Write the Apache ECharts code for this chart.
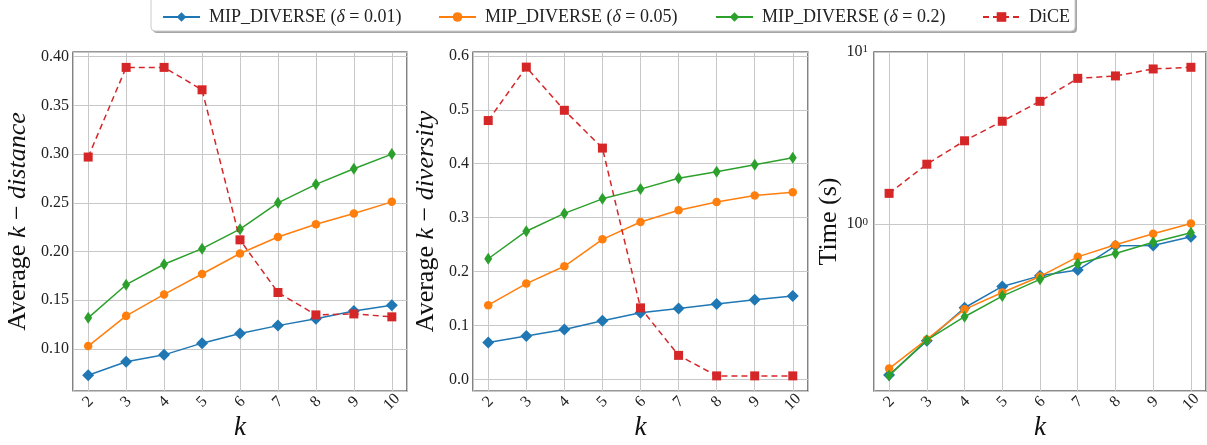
<!DOCTYPE html>
<html>
<head>
<meta charset="utf-8">
<script src="https://cdn.jsdelivr.net/npm/echarts@6/dist/echarts.min.js"></script>
<style>
  html, body { margin: 0; padding: 0; background: #fff; }
  #chart { width: 1207px; height: 445px; }
</style>
</head>
<body>
<div id="chart"></div>
<script>
// k values on the x axis
var ks = [2, 3, 4, 5, 6, 7, 8, 9, 10];

// series names
var names = ['MIP_DIVERSE (δ = 0.01)', 'MIP_DIVERSE (δ = 0.05)', 'MIP_DIVERSE (δ = 0.2)', 'DiCE'];

// panel 1: average k-distance
var dist001 = [0.073, 0.087, 0.094, 0.106, 0.116, 0.124, 0.131, 0.139, 0.145];
var dist005 = [0.103, 0.134, 0.156, 0.177, 0.198, 0.215, 0.228, 0.239, 0.251];
var dist02 = [0.132, 0.166, 0.187, 0.203, 0.223, 0.250, 0.269, 0.285, 0.300];
var distDice = [0.297, 0.389, 0.389, 0.366, 0.212, 0.158, 0.135, 0.136, 0.133];

// panel 2: average k-diversity
var div001 = [0.069, 0.081, 0.093, 0.109, 0.124, 0.132, 0.140, 0.148, 0.155];
var div005 = [0.138, 0.178, 0.210, 0.260, 0.292, 0.314, 0.329, 0.341, 0.347];
var div02 = [0.224, 0.275, 0.308, 0.335, 0.353, 0.373, 0.385, 0.398, 0.411];
var divDice = [0.480, 0.579, 0.499, 0.429, 0.133, 0.045, 0.007, 0.007, 0.007];

// panel 3: time in seconds (log scale)
var time001 = [0.133, 0.210, 0.327, 0.435, 0.501, 0.541, 0.749, 0.752, 0.844];
var time005 = [0.145, 0.214, 0.320, 0.401, 0.497, 0.646, 0.759, 0.879, 1.009];
var time02 = [0.132, 0.212, 0.290, 0.382, 0.478, 0.589, 0.676, 0.786, 0.891];
var timeDice = [1.51, 2.23, 3.05, 3.96, 5.17, 7.03, 7.26, 7.97, 8.15];

var colors = ['#1f77b4', '#ff7f0e', '#2ca02c', '#d62728'];
var symbols = ['diamond', 'circle', 'diamond', 'rect'];
var symbolSizes = [12, 8.5, [8, 12], 9];
var FONT = '"Liberation Serif", "DejaVu Serif", serif';

function pairs(ys) {
    return ks.map(function (k, i) { return [k, ys[i]]; });
}

function makeSeries(idx, data, gi) {
    return {
        name: names[idx],
        type: 'line',
        xAxisIndex: gi,
        yAxisIndex: gi,
        data: pairs(data),
        symbol: symbols[idx],
        symbolSize: symbolSizes[idx],
        showAllSymbol: true,
        color: colors[idx],
        lineStyle: { width: 1.5, color: colors[idx], type: idx == 3 ? [6, 4] : 'solid' },
        itemStyle: { color: colors[idx] },
        z: 2 + idx,
        animation: false
    };
}

var gridTops = 52, gridH = 339;
var grids = [
    { left: 73, top: gridTops, width: 334, height: gridH },
    { left: 473, top: gridTops, width: 335, height: gridH },
    { left: 874, top: gridTops, width: 332, height: gridH }
];
grids.forEach(function (g, i) {
    g.show = true;
    g.outerBoundsMode = 'none';
    g.containLabel = false;
    g.backgroundColor = '#fff';
    g.borderColor = i == 2 ? '#666' : '#333';
    g.borderWidth = i == 2 ? 1.6 : 1.2;
});

var splitLine = { show: true, lineStyle: { color: '#c8c8c8', width: 1 } };

function makeX(gi) {
    return {
        type: 'value',
        gridIndex: gi,
        min: 1.6,
        max: 10.4,
        splitNumber: 9,
        minInterval: 1,
        maxInterval: 1,
        axisLine: { show: false },
        axisTick: { show: false },
        splitLine: splitLine,
        axisLabel: {
            rotate: 45,
            align: 'center',
            verticalAlign: 'middle',
            margin: 11,
            fontFamily: FONT,
            fontSize: 16,
            color: '#222',
            showMinLabel: false,
            showMaxLabel: false,
            formatter: function (v) { return Math.abs(v - Math.round(v)) < 1e-6 ? String(Math.round(v)) : ''; }
        },
        name: 'k',
        nameLocation: 'middle',
        nameGap: 23,
        nameMoveOverlap: false,
        nameTextStyle: { fontFamily: FONT, fontStyle: 'italic', fontSize: 27, color: '#111' }
    };
}

function nameRich() {
    return {
        fontFamily: FONT, fontSize: 26, color: '#111',
        rich: {
            n: { fontFamily: FONT, fontSize: 26, color: '#111' },
            i: { fontFamily: FONT, fontSize: 26, fontStyle: 'italic', color: '#111' }
        }
    };
}

function makeY(gi, min, max, digits, label, gap) {
    return {
        type: 'value',
        gridIndex: gi,
        min: min,
        max: max,
        axisLine: { show: false },
        axisTick: { show: false },
        splitLine: splitLine,
        axisLabel: {
            margin: 4,
            fontFamily: FONT,
            fontSize: 16,
            color: '#222',
            showMinLabel: false,
            showMaxLabel: false,
            formatter: function (v) { return v.toFixed(digits); }
        },
        name: label,
        nameLocation: 'middle',
        nameRotate: 90,
        nameGap: gap,
        nameTextStyle: nameRich()
    };
}

var yTime = {
    type: 'log',
    logBase: 10,
    gridIndex: 2,
    min: 0.1074,
    max: 10,
    axisLine: { show: false },
    axisTick: { show: false },
    splitLine: splitLine,
    axisLabel: {
        margin: 6,
        fontFamily: FONT,
        fontSize: 16,
        color: '#222',
        formatter: function (v) {
            var e = Math.log(v) / Math.LN10;
            if (Math.abs(e - Math.round(e)) > 1e-6) return '';
            return '{b|10}{s|' + Math.round(e) + '}';
        },
        rich: {
            b: { fontFamily: FONT, fontSize: 16, color: '#222', verticalAlign: 'bottom' },
            s: { fontFamily: FONT, fontSize: 11, color: '#222', verticalAlign: 'top' }
        }
    },
    name: 'Time (s)',
    nameLocation: 'middle',
    nameRotate: 90,
    nameGap: 28,
    nameTextStyle: nameRich()
};

var legendLefts = [157, 433, 710, 977];
var legends = names.map(function (n, i) {
    return {
        data: [n],
        left: legendLefts[i],
        top: 3,
        itemWidth: 37,
        itemHeight: 12,
        z: 10,
        selectedMode: false,
        textStyle: {
            fontFamily: FONT, fontSize: 18, color: '#222', padding: [0, 0, 0, 4],
            rich: {
                a: { fontFamily: FONT, fontSize: 18, color: '#222' },
                i: { fontFamily: FONT, fontSize: 18, fontStyle: 'italic', color: '#222' }
            }
        },
        formatter: function (name) {
            var m = name.match(/^(.*)δ(.*)$/);
            if (!m) return '{a|' + name + '}';
            return '{a|' + m[1] + '}{i|δ}{a|' + m[2] + '}';
        }
    };
});

var series = [];
[[dist001, dist005, dist02, distDice], [div001, div005, div02, divDice], [time001, time005, time02, timeDice]]
    .forEach(function (set, gi) {
        set.forEach(function (d, idx) { series.push(makeSeries(idx, d, gi)); });
    });

var chart = echarts.init(document.getElementById('chart'), null, { renderer: 'canvas' });
chart.setOption({
    animation: false,
    backgroundColor: '#fff',
    graphic: [
        { type: 'rect', z: 1, shape: { x: 153, y: -3, width: 924, height: 36, r: 4 },
          style: { fill: 'rgba(0,0,0,0.35)' } },
        { type: 'rect', z: 2, shape: { x: 151, y: -5, width: 924, height: 36, r: 4 },
          style: { fill: '#fff', stroke: '#cccccc', lineWidth: 1 } }
    ],
    legend: legends,
    grid: grids,
    xAxis: [makeX(0), makeX(1), makeX(2)],
    yAxis: [
        makeY(0, 0.0569, 0.4048, 2, '{n|Average }{i|k}{n| − }{i|distance}', 42),
        makeY(1, -0.021, 0.607, 1, '{n|Average }{i|k}{n| − }{i|diversity}', 34),
        yTime
    ],
    series: series
});
window.onresize = chart.resize;
</script>
</body>
</html>
